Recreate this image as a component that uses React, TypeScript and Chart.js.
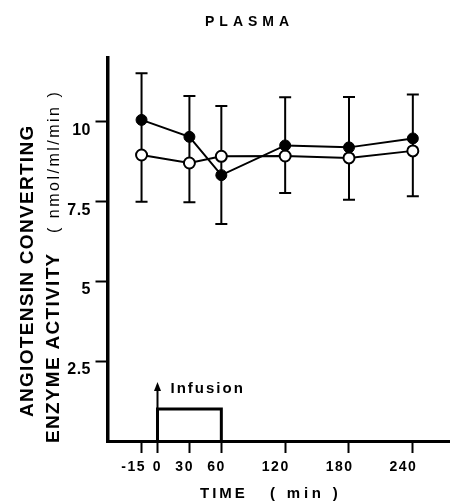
import React, { useEffect, useRef } from "react";
import { Chart, registerables } from "chart.js";

Chart.register(...registerables);

// ---- data ----
const timePoints = [-15, 30, 60, 120, 180, 240];
const filledValues = [10.06, 9.53, 8.33, 9.26, 9.2, 9.48];
const openValues = [8.96, 8.71, 8.92, 8.93, 8.87, 9.09];
const errorTop = [11.52, 10.81, 10.5, 10.77, 10.78, 10.86];
const errorBottom = [7.5, 7.48, 6.8, 7.77, 7.56, 7.67];

const xTickValues = [-15, 0, 30, 60, 120, 180, 240];
const xTickLabels = ["-15", "0", "30", "60", "120", "180", "240"];
const yTickValues = [2.5, 5, 7.5, 10];
const yTickLabels = ["2.5", "5", "7.5", "10"];

const infusionStart = 0;
const infusionEnd = 60;
const infusionLevel = 1.0;
const arrowTop = 1.85;

const titleText = "PLASMA";
const yTitleLine1 = "ANGIOTENSIN CONVERTING";
const yTitleLine2a = "ENZYME ACTIVITY";
const yTitleLine2b = "( nmol/ml/min )";
const xTitleA = "TIME";
const xTitleB = "( min )";
const infusionText = "Infusion";

const FAMILY = '"Liberation Sans", Arial, Helvetica, sans-serif';

function drawSpaced(
  ctx: CanvasRenderingContext2D,
  text: string,
  x: number,
  y: number,
  spacing: number,
  align: "left" | "right" | "center" = "left"
) {
  const chars = [...text];
  const widths = chars.map((c) => ctx.measureText(c).width);
  const total = widths.reduce((a, b) => a + b, 0) + spacing * (chars.length - 1);
  let cx = align === "right" ? x - total : align === "center" ? x - total / 2 : x;
  ctx.textAlign = "left";
  chars.forEach((c, i) => {
    ctx.fillText(c, cx, y);
    cx += widths[i] + spacing;
  });
  return total;
}

const errorBarPlugin = {
  id: "errorBars",
  beforeDatasetsDraw(chart: any) {
    const { ctx, scales } = chart;
    const xs = scales.x;
    const ys = scales.y;
    ctx.save();
    ctx.strokeStyle = "#000";
    ctx.lineWidth = 2;
    timePoints.forEach((t, i) => {
      const px = xs.getPixelForValue(t);
      const top = ys.getPixelForValue(errorTop[i]);
      const bot = ys.getPixelForValue(errorBottom[i]);
      ctx.beginPath();
      ctx.moveTo(px, top);
      ctx.lineTo(px, bot);
      ctx.moveTo(px - 6, top);
      ctx.lineTo(px + 6, top);
      ctx.moveTo(px - 6, bot);
      ctx.lineTo(px + 6, bot);
      ctx.stroke();
    });
    ctx.restore();
  },
};

const textPlugin = {
  id: "texts",
  afterDraw(chart: any) {
    const { ctx, scales } = chart;
    const xs = scales.x;
    const ys = scales.y;
    ctx.save();
    ctx.fillStyle = "#000";
    ctx.textBaseline = "alphabetic";

    // title
    ctx.font = `bold 14px ${FAMILY}`;
    drawSpaced(ctx, titleText, 205, 26, 5, "left");

    // y tick labels
    ctx.font = `bold 16px ${FAMILY}`;
    const yLabelRight = ys.right - 17;
    yTickValues.forEach((v, i) => {
      const py = ys.getPixelForValue(v);
      drawSpaced(ctx, yTickLabels[i], yLabelRight, py + 13, 0.5, "right");
    });

    // x tick labels
    ctx.font = `bold 14px ${FAMILY}`;
    const xBase = xs.top + 30;
    xTickValues.forEach((v, i) => {
      const px = xs.getPixelForValue(v);
      drawSpaced(ctx, xTickLabels[i], px + 3, xBase, 1.5, "right");
    });

    // x title
    ctx.font = `bold 15px ${FAMILY}`;
    drawSpaced(ctx, xTitleA, 200, 498, 3, "left");
    drawSpaced(ctx, xTitleB, 270, 498, 3.8, "left");

    // y title (rotated)
    ctx.save();
    ctx.translate(33, 417);
    ctx.rotate(-Math.PI / 2);
    ctx.font = `bold 19px ${FAMILY}`;
    drawSpaced(ctx, yTitleLine1, 0, 0, 1.3, "left");
    ctx.restore();

    ctx.save();
    ctx.translate(59, 443);
    ctx.rotate(-Math.PI / 2);
    ctx.font = `bold 19px ${FAMILY}`;
    drawSpaced(ctx, yTitleLine2a, 0, 0, 1.3, "left");
    ctx.font = `16px ${FAMILY}`;
    drawSpaced(ctx, yTitleLine2b, 210, 0, 2.5, "left");
    ctx.restore();

    // infusion arrow
    const ax = xs.getPixelForValue(infusionStart);
    const aBase = ys.getPixelForValue(infusionLevel);
    const aTip = ys.getPixelForValue(arrowTop);
    ctx.strokeStyle = "#000";
    ctx.lineWidth = 2;
    ctx.beginPath();
    ctx.moveTo(ax, aBase);
    ctx.lineTo(ax, aTip + 6);
    ctx.stroke();
    ctx.beginPath();
    ctx.moveTo(ax, aTip);
    ctx.lineTo(ax - 3.5, aTip + 9);
    ctx.lineTo(ax + 3.5, aTip + 9);
    ctx.closePath();
    ctx.fill();

    ctx.font = `bold 15px ${FAMILY}`;
    drawSpaced(ctx, infusionText, ax + 13, aTip + 11, 2, "left");

    ctx.restore();
  },
};

export default function App() {
  const canvasRef = useRef<HTMLCanvasElement | null>(null);

  useEffect(() => {
    document.body.style.margin = "0";
    const canvas = canvasRef.current;
    if (!canvas) return;

    const filledData = timePoints.map((t, i) => ({ x: t, y: filledValues[i] }));
    const openData = timePoints.map((t, i) => ({ x: t, y: openValues[i] }));
    const infusionData = [
      { x: infusionStart, y: 0 },
      { x: infusionStart, y: infusionLevel },
      { x: infusionEnd, y: infusionLevel },
      { x: infusionEnd, y: 0 },
    ];

    const chart = new Chart(canvas, {
      type: "line",
      data: {
        datasets: [
          {
            label: "filled",
            data: filledData,
            borderColor: "#000",
            borderWidth: 2,
            backgroundColor: "#000",
            pointBackgroundColor: "#000",
            pointBorderColor: "#000",
            pointBorderWidth: 1,
            pointRadius: 5.5,
            tension: 0,
            fill: false,
          },
          {
            label: "open",
            data: openData,
            borderColor: "#000",
            borderWidth: 2,
            backgroundColor: "#fff",
            pointBackgroundColor: "#fff",
            pointBorderColor: "#000",
            pointBorderWidth: 2,
            pointRadius: 5.5,
            tension: 0,
            fill: false,
          },
          {
            label: "infusion",
            data: infusionData,
            borderColor: "#000",
            borderWidth: 3,
            pointRadius: 0,
            tension: 0,
            fill: false,
          },
        ],
      },
      options: {
        responsive: false,
        animation: false,
        layout: { autoPadding: false, padding: { top: 58, right: 1, left: 0, bottom: 0 } },
        plugins: {
          legend: { display: false },
          tooltip: { enabled: false },
          title: { display: false },
        },
        scales: {
          x: {
            type: "linear",
            min: -47,
            max: 274,
            afterBuildTicks: (s: any) => {
              s.ticks = xTickValues.map((v) => ({ value: v }));
            },
            afterFit: (s: any) => {
              s.height = 61;
            },
            ticks: { display: false },
            grid: {
              display: true,
              drawOnChartArea: false,
              drawTicks: true,
              tickLength: 12,
              tickWidth: 2,
              tickColor: "#000",
            },
            border: { display: true, color: "#000", width: 3 },
          },
          y: {
            type: "linear",
            min: 0,
            max: 12,
            afterBuildTicks: (s: any) => {
              s.ticks = yTickValues.map((v) => ({ value: v }));
            },
            afterFit: (s: any) => {
              s.width = 107.5;
            },
            ticks: { display: false },
            grid: {
              display: true,
              drawOnChartArea: false,
              drawTicks: true,
              tickLength: 12,
              tickWidth: 2,
              tickColor: "#000",
            },
            border: { display: true, color: "#000", width: 3.5 },
          },
        },
      },
      plugins: [errorBarPlugin, textPlugin],
    } as any);

    return () => {
      chart.destroy();
    };
  }, []);

  return (
    <div style={{ width: 450, height: 502, background: "#fff" }}>
      <canvas ref={canvasRef} width={450} height={502} />
    </div>
  );
}
